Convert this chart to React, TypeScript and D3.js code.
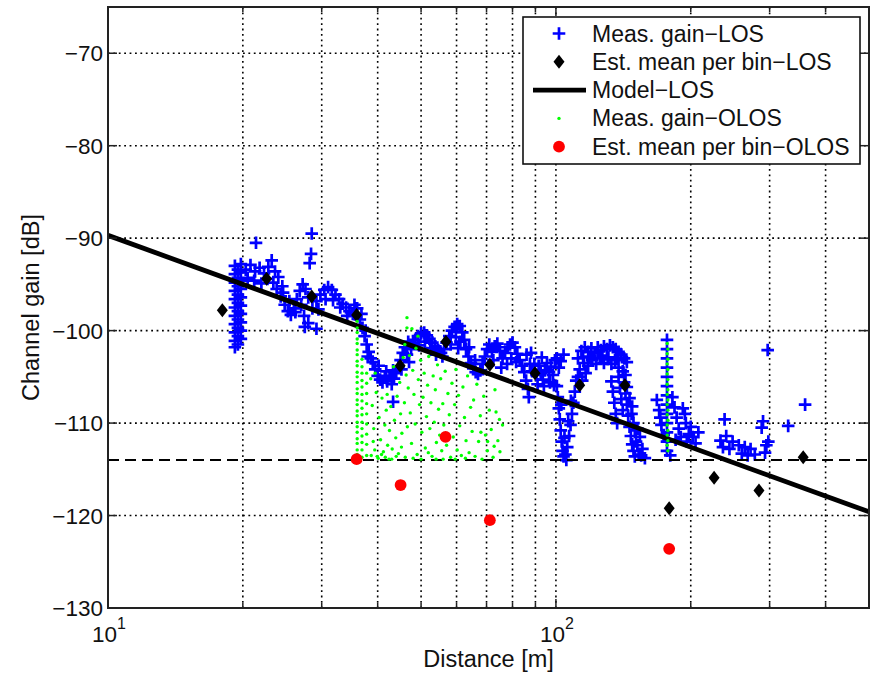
import React from 'react';
import * as d3 from 'd3';

// ---------- data ----------
const xDomain: [number, number] = [10, 500];
const yDomain: [number, number] = [-130, -65];
const yTicks = [-130, -120, -110, -100, -90, -80, -70];
const xMajorTicks = [10, 100];
const xMajorExp = ['1', '2'];
const xMinorTicks = [20, 30, 40, 50, 60, 70, 80, 90, 200, 300, 400];
const thresholdGain = -114;

const modelDist = [10, 500];
const modelGain = [-89.7, -119.6];

const losBinMean: [number, number][] = [
  [18, -97.8], [22.6, -94.4], [28.5, -96.3], [35.9, -98.3], [44.9, -103.8], [56.8, -101.2],
  [71.2, -103.7], [89.8, -104.6], [113, -105.9], [142.6, -105.9], [179, -119.2], [225.5, -115.9],
  [284, -117.3], [356.5, -113.7],
];

const olosBinMean: [number, number][] = [
  [35.9, -113.9], [45.0, -116.7], [56.7, -111.5], [71.2, -120.5], [179, -123.6],
];

const losMeasured: [number, number][] = [
  // bar near 19-20 m
  [19.2, -93.0], [19.2, -93.9], [19.2, -94.8], [19.2, -95.7], [19.2, -96.6], [19.2, -97.5], [19.2, -98.4], [19.2, -99.3], [19.2, -100.2], [19.2, -101.1], [19.2, -101.8],
  [19.5, -93.4], [19.5, -94.3], [19.5, -95.2], [19.5, -96.1], [19.5, -97.0], [19.5, -97.9], [19.5, -98.8], [19.5, -99.7], [19.5, -100.6], [19.5, -101.5],
  [19.8, -92.8], [19.8, -93.7], [19.8, -94.6], [19.8, -95.5], [19.8, -96.4], [19.8, -97.3], [19.8, -98.2], [19.8, -99.1], [19.8, -100.0], [19.8, -100.9],
  // top blob
  [20.3, -93.4], [20.8, -92.9], [21.3, -93.6], [21.8, -93.2], [22.3, -93.8], [22.8, -93.1], [23.2, -92.4], [23.6, -93.6],
  [20.5, -94.3], [21.2, -94.6], [22.0, -94.9], [22.7, -94.4], [23.4, -94.8], [24.0, -94.2], [24.5, -95.2],
  [21.4, -90.5],
  [23.8, -95.5], [24.3, -96.3], [24.8, -97.2], [25.2, -97.9], [25.6, -98.3], [26.0, -97.6], [26.4, -96.6], [26.8, -95.7],
  [27.2, -95.0], [27.6, -95.5], [28.0, -96.4], [24.6, -95.9], [25.4, -96.8], [26.2, -98.0], [27.0, -97.2],
  [27.4, -98.4], [28.0, -99.2], [27.5, -99.6], [29.2, -99.8],
  [28.5, -89.5], [28.4, -91.7], [28.2, -92.7],
  // hump 28-36 m
  [28.6, -97.6], [29.2, -96.8], [29.8, -96.1], [30.4, -95.6], [31.0, -95.3], [31.6, -95.6], [32.2, -96.1], [32.8, -96.6],
  [33.4, -97.1], [34.0, -97.5], [34.6, -97.9], [35.2, -98.2], [29.5, -97.7], [30.6, -96.6], [31.8, -96.7], [33.0, -97.5],
  [34.2, -98.4], [35.5, -97.2], [36.0, -97.6],
  // descent and trough
  [36.5, -98.8], [37.0, -99.7], [37.4, -100.6], [37.8, -101.5], [38.2, -102.3], [38.6, -103.0], [36.8, -98.2], [37.6, -100.0],
  [38.0, -102.8], [39.0, -103.4],
  [39.5, -104.2], [40.0, -104.9], [40.5, -105.3], [41.0, -105.6], [41.5, -105.1], [42.0, -105.5], [42.5, -104.9], [43.0, -105.8],
  [43.5, -105.2], [44.0, -104.6], [44.5, -104.0], [40.2, -103.8], [41.8, -104.4], [43.3, -104.3], [43.3, -107.7],
  // rise and humps
  [45.0, -103.2], [45.5, -102.4], [46.0, -101.8], [46.5, -102.6], [47.0, -103.4], [47.5, -102.0], [48.0, -101.4], [45.2, -104.2], [46.8, -101.2],
  [48.5, -101.0], [49.2, -100.6], [50.0, -100.3], [50.8, -100.2], [51.5, -100.5], [52.2, -100.9], [53.0, -101.3], [53.8, -101.7],
  [54.6, -102.1], [55.4, -102.4], [49.5, -101.6], [51.0, -101.2], [52.6, -101.9], [54.0, -102.6], [55.8, -102.8], [56.3, -102.0],
  [57.0, -101.3], [57.8, -100.6], [58.6, -100.0], [59.4, -99.6], [60.2, -99.3], [61.0, -99.5], [61.8, -100.2], [62.4, -101.0],
  [58.2, -101.5], [59.8, -100.7], [61.2, -101.2], [60.5, -101.9],
  [63.0, -102.0], [63.8, -102.8], [64.6, -103.5], [65.4, -104.1], [66.2, -104.5], [67.0, -104.7], [67.8, -104.3], [68.6, -103.6],
  [69.4, -102.8], [64.0, -101.8], [66.0, -103.2],
  [70.2, -102.0], [71.0, -101.5], [72.0, -102.3], [73.0, -101.7], [74.0, -101.4], [75.0, -102.2], [76.0, -103.0], [77.0, -102.4],
  [78.0, -101.8], [79.0, -101.5], [80.0, -101.3], [81.0, -101.8], [82.0, -102.5], [83.0, -103.2], [84.0, -103.8], [72.5, -103.2],
  [75.5, -104.0], [79.5, -103.0], [81.5, -103.4], [77.8, -103.6],
  [85.0, -104.5], [85.8, -105.4], [86.6, -106.3], [87.0, -107.2], [86.0, -102.6], [87.5, -103.6], [88.5, -104.4], [89.5, -103.6],
  [90.5, -104.8], [91.5, -103.8], [92.5, -104.6], [93.5, -105.3], [94.5, -104.3], [95.5, -103.5], [96.5, -104.5], [97.5, -103.9],
  [98.5, -104.8], [99.5, -103.2], [100.5, -103.0], [101.5, -104.0], [102.5, -103.3], [104.0, -102.6],
  [91.0, -105.8], [94.0, -106.0], [97.0, -105.6], [99.0, -105.9], [88.0, -102.4], [93.0, -102.9],
  // deep dip near 100-110 m
  [100.5, -106.0], [101.0, -107.2], [101.5, -108.4], [102.0, -109.6], [102.5, -110.8], [103.0, -112.0], [103.5, -113.0], [104.0, -113.6],
  [105.0, -113.4], [106.0, -112.6], [107.0, -111.4], [107.8, -110.2], [108.6, -109.0], [109.4, -107.8], [110.2, -106.6], [111.0, -105.4],
  [104.5, -111.6], [106.5, -109.8], [102.8, -108.0], [105.5, -114.0], [108.0, -107.6],
  // plateau 112-145 m
  [112, -103.0], [114, -102.2], [116, -101.8], [118, -102.3], [120, -101.9], [122, -102.4], [124, -101.8], [126, -102.1],
  [128, -101.7], [130, -102.0], [132, -101.6], [134, -101.8], [136, -102.0], [138, -102.3], [140, -102.6], [142, -103.0], [144, -103.4],
  [113, -104.2], [115.5, -103.5], [118, -103.8], [120.5, -103.2], [123, -103.6], [125.5, -103.0], [128, -103.5], [130.5, -103.1],
  [133, -103.6], [135.5, -103.2], [138, -104.0], [141, -104.4], [143, -104.8],
  [115, -102.9], [119, -102.8], [127, -102.7], [131, -102.9], [137, -103.1], [112, -105.0], [114.5, -105.4], [116.5, -104.6],
  [133, -105.5], [134, -106.6], [135, -107.8], [136, -109.0], [137, -110.0], [138, -105.0], [139, -106.2], [140, -107.4],
  [141, -108.6], [142, -105.6], [143, -106.8], [144, -108.0], [145, -109.2], [146, -110.4], [147, -111.4], [148, -112.3],
  [149, -113.0], [150, -113.6], [151, -112.0], [152, -110.6], [153, -113.4], [147.5, -109.0], [150, -110.8], [156, -112.8],
  [158, -113.8], [154, -111.5], [144, -106.1], [146, -107.3], [148, -108.2], [149, -110.0], [152, -112.4], [155, -113.5],
  // bar near 177 m
  [177, -101.0], [177, -102.0], [177, -103.0], [177, -104.0], [177, -105.0], [177, -106.0], [177, -107.0], [177, -108.0],
  [177, -109.0], [177, -110.0], [177, -111.0], [177, -112.0], [177, -113.0],
  [168, -107.5], [170, -108.6], [172, -110.2], [174, -111.3], [171, -109.4], [182, -107.2], [184, -108.3], [186, -109.4],
  [188, -110.6], [190, -111.5], [192, -108.4], [195, -110.0], [198, -111.2], [200, -110.4], [185, -111.8], [180, -113.5],
  [202, -111.5], [205, -112.2], [208, -111.0], [194, -109.0], [196, -112.0],
  // sparse tail
  [238, -109.6], [233, -111.9], [236, -112.6], [240, -111.4], [244, -112.8], [248, -112.0], [256, -112.4], [260, -113.3],
  [264, -112.6], [268, -113.5], [272, -112.8], [278, -113.4], [290, -109.8], [288, -110.5], [295, -112.4], [293, -113.2],
  [298, -112.0], [297, -102.1], [330, -110.3], [360, -108.0],
];

const olosMeasured: [number, number][] = [
  // streak at ~36 m
  [36.0, -99.0], [36.0, -99.7], [36.0, -100.2], [36.0, -100.9], [36.0, -101.4], [36.0, -102.1], [36.0, -102.6], [36.0, -103.3],
  [36.0, -103.8], [36.0, -104.5], [36.0, -105.0], [36.0, -105.6], [36.0, -106.3], [36.0, -106.8], [36.0, -107.5], [36.0, -108.0],
  [36.0, -108.7], [36.0, -109.2], [36.0, -109.9], [36.0, -110.4], [36.0, -111.0], [36.0, -111.7], [36.0, -112.2], [36.0, -112.9],
  [36.0, -113.4], [36.0, -113.9],
  [36.9, -103.1], [36.9, -103.9], [36.9, -104.6], [36.9, -105.4], [36.9, -106.1], [36.9, -106.9], [36.9, -107.6], [36.9, -108.4],
  [36.9, -109.1], [36.9, -109.9], [36.9, -110.6], [36.9, -111.4], [36.9, -112.1], [36.9, -112.9], [36.9, -113.7],
  [37.8, -104.6], [37.8, -105.7], [37.8, -106.8], [37.8, -107.9], [37.8, -109.0], [37.8, -110.1], [37.8, -111.2], [37.8, -112.3], [37.8, -113.5],
  // cloud 38-77 m
  [38.6, -105.2], [38.9, -108.1], [39.2, -110.6], [39.4, -112.9], [39.7, -106.7], [39.9, -113.6], [40.3, -109.4], [40.6, -111.8],
  [40.9, -107.3], [41.2, -113.1], [41.5, -110.2], [41.8, -108.6], [42.1, -112.4], [38.7, -113.5], [39.1, -112.0], [40.1, -113.8],
  [40.8, -113.4], [41.6, -113.7], [42.4, -113.9], [42.0, -106.9], [39.5, -104.6],
  [42.5, -110.8], [42.8, -108.2], [43.1, -112.8], [43.4, -103.9], [43.6, -109.7], [43.9, -111.6], [44.2, -107.1], [44.5, -113.3],
  [44.8, -105.6], [45.0, -109.0], [45.3, -111.1], [45.6, -102.9], [45.9, -107.8], [46.1, -113.7], [46.3, -104.8], [46.5, -98.6],
  [46.5, -99.7], [46.6, -110.4], [46.8, -106.2], [43.0, -113.9], [44.0, -113.6], [45.2, -112.6], [46.0, -101.5],
  [47.1, -102.7], [47.3, -108.9], [47.6, -112.2], [47.9, -104.3], [48.2, -106.9], [48.5, -110.1], [48.7, -101.9], [49.0, -113.4],
  [49.3, -105.3], [49.6, -108.0], [49.9, -103.2], [50.2, -111.0], [50.5, -107.2], [50.8, -104.6], [51.1, -112.7], [51.4, -109.3],
  [51.7, -105.9], [52.0, -102.8], [52.3, -110.6], [52.6, -107.8], [52.9, -113.6], [53.2, -104.9], [53.5, -109.9], [53.8, -106.4],
  [54.1, -112.1], [54.4, -103.7], [54.7, -108.5], [55.0, -111.3], [48.0, -113.8], [50.0, -113.9], [51.9, -113.2], [54.0, -113.9],
  [47.7, -99.8], [49.2, -100.6],
  [55.3, -105.2], [55.6, -113.0], [55.9, -107.9], [56.2, -110.2], [56.6, -104.4], [57.0, -112.4], [57.4, -106.8], [57.8, -109.1],
  [58.2, -113.7], [58.6, -105.7], [59.0, -111.5], [59.4, -108.0], [59.8, -104.2], [60.2, -112.9], [60.6, -107.0], [61.0, -110.3],
  [61.5, -113.5], [62.0, -106.1], [62.5, -109.4], [63.0, -111.9], [63.5, -104.9], [64.0, -113.2], [64.5, -108.3], [56.0, -113.9],
  [59.6, -113.9], [62.8, -113.8],
  [65.0, -110.9], [65.5, -107.5], [66.0, -113.6], [66.6, -105.8], [67.2, -112.0], [67.8, -109.2], [68.4, -113.9], [69.0, -107.1],
  [69.6, -111.3], [70.3, -113.0], [71.0, -108.6], [71.7, -110.7], [72.4, -113.7], [73.1, -106.4], [73.5, -108.8], [74.2, -111.9],
  [75.0, -113.1], [70.4, -112.0], [72.8, -112.5], [76.0, -110.2], [74.8, -109.6], [68.0, -111.0],
  // streak at ~177 m
  [177.2, -101.4], [177.8, -102.0], [177.2, -102.5], [177.8, -103.1], [177.2, -103.6], [177.8, -104.2], [177.2, -104.7],
  [177.8, -105.3], [177.2, -105.8], [177.8, -106.4], [177.2, -106.9], [177.8, -107.5], [177.2, -108.0], [177.8, -108.6],
  [177.2, -109.1], [177.8, -109.7], [177.2, -110.2], [177.8, -110.8], [177.2, -111.3], [177.8, -111.9], [177.2, -112.4], [177.8, -113.0],
];

const legendLabels = [
  'Meas. gain\u2212LOS',
  'Est. mean per bin\u2212LOS',
  'Model\u2212LOS',
  'Meas. gain\u2212OLOS',
  'Est. mean per bin\u2212OLOS',
];

// ---------- layout ----------
const W = 871, H = 674;
const P = { left: 108, right: 869, top: 7, bottom: 608 };
const FONT = '"Liberation Sans", Arial, Helvetica, sans-serif';
const BLUE = '#0000ff', GREEN = '#00ff00', RED = '#ff0000';

export default function App() {
  const x = d3.scaleLog().domain(xDomain).range([P.left, P.right]);
  const y = d3.scaleLinear().domain(yDomain).range([P.bottom, P.top]);

  const plusS = 6.3;
  const plusPath = losMeasured
    .map(([d, g]) => {
      const px = x(d), py = y(g);
      return `M${px - plusS},${py}H${px + plusS}M${px},${py - plusS}V${py + plusS}`;
    })
    .join('');

  const diamond = (cx: number, cy: number, w = 5.5, h = 7) =>
    `M${cx},${cy - h}L${cx + w},${cy}L${cx},${cy + h}L${cx - w},${cy}Z`;

  const modelLine = d3.line<number>().x((_, i) => x(modelDist[i])).y((_, i) => y(modelGain[i]));

  const gridX = [...xMinorTicks, 100];
  const gridY = yTicks.filter((t) => t > yDomain[0]);

  const legend = { x: 523, y: 17, w: 337, h: 147, rowY: 33.5, rowH: 28.3, symX: 559, textX: 592 };

  return (
    <svg width={W} height={H} style={{ position: 'absolute', left: 0, top: 0, background: '#fff' }} fontFamily={FONT}>
      <defs>
        <clipPath id="plotClip">
          <rect x={P.left} y={P.top} width={P.right - P.left} height={P.bottom - P.top} />
        </clipPath>
      </defs>
      <rect x={0} y={0} width={W} height={H} fill="#fff" />

      {/* grid */}
      <g stroke="#000" strokeWidth={1.6} strokeDasharray="1.8,3.6">
        {gridX.map((t) => (
          <line key={'gx' + t} x1={x(t)} x2={x(t)} y1={P.top} y2={P.bottom} />
        ))}
        {gridY.map((t) => (
          <line key={'gy' + t} x1={P.left} x2={P.right} y1={y(t)} y2={y(t)} />
        ))}
      </g>

      <g clipPath="url(#plotClip)">
        {/* LOS measurements */}
        <path d={plusPath} stroke={BLUE} strokeWidth={2.7} fill="none" />
        {/* threshold */}
        <line x1={P.left} x2={P.right} y1={y(thresholdGain)} y2={y(thresholdGain)} stroke="#000" strokeWidth={2} strokeDasharray="11,6" />
        {/* LOS bin means */}
        {losBinMean.map(([d, g], i) => (
          <path key={'lm' + i} d={diamond(x(d), y(g))} fill="#000" />
        ))}
        {/* model */}
        <path d={modelLine(modelDist) || ''} stroke="#000" strokeWidth={4.8} fill="none" />
        {/* OLOS measurements */}
        {olosMeasured.map(([d, g], i) => (
          <circle key={'om' + i} cx={x(d)} cy={y(g)} r={1.7} fill={GREEN} />
        ))}
        {/* OLOS bin means */}
        {olosBinMean.map(([d, g], i) => (
          <circle key={'ob' + i} cx={x(d)} cy={y(g)} r={5.9} fill={RED} />
        ))}
      </g>

      {/* axes box */}
      <rect x={P.left} y={P.top} width={P.right - P.left} height={P.bottom - P.top} fill="none" stroke="#222" strokeWidth={2} />

      {/* ticks */}
      <g stroke="#222" strokeWidth={1.5}>
        {yTicks.map((t) => (
          <g key={'yt' + t}>
            <line x1={P.left} x2={P.left + 9} y1={y(t)} y2={y(t)} />
            <line x1={P.right} x2={P.right - 9} y1={y(t)} y2={y(t)} />
          </g>
        ))}
        {xMajorTicks.map((t) => (
          <g key={'xt' + t}>
            <line x1={x(t)} x2={x(t)} y1={P.bottom} y2={P.bottom - 9} />
            <line x1={x(t)} x2={x(t)} y1={P.top} y2={P.top + 9} />
          </g>
        ))}
        {xMinorTicks.map((t) => (
          <g key={'xm' + t}>
            <line x1={x(t)} x2={x(t)} y1={P.bottom} y2={P.bottom - 5} />
            <line x1={x(t)} x2={x(t)} y1={P.top} y2={P.top + 5} />
          </g>
        ))}
      </g>

      {/* tick labels */}
      <g fontSize={22.5} fill="#111">
        {yTicks.map((t) => (
          <text key={'yl' + t} x={P.left - 5} y={y(t) + 8} textAnchor="end">
            {'\u2212' + Math.abs(t)}
          </text>
        ))}
        {xMajorTicks.map((t, i) => (
          <text key={'xl' + t} x={x(t) + 1} y={642} textAnchor="middle">
            10
            <tspan dy={-13} fontSize={16}>
              {xMajorExp[i]}
            </tspan>
          </text>
        ))}
      </g>

      {/* axis labels */}
      <text x={(P.left + P.right) / 2} y={667} textAnchor="middle" fontSize={23.5} fill="#111">
        Distance [m]
      </text>
      <text
        transform={`translate(39, ${(P.top + P.bottom) / 2}) rotate(-90)`}
        textAnchor="middle"
        fontSize={23.5}
        fill="#111"
      >
        Channel gain [dB]
      </text>

      {/* legend */}
      <g>
        <rect x={legend.x} y={legend.y} width={legend.w} height={legend.h} fill="#fff" stroke="#111" strokeWidth={1.6} />
        {legendLabels.map((lab, i) => {
          const cy = legend.rowY + i * legend.rowH;
          let sym: React.ReactNode = null;
          if (i === 0)
            sym = (
              <path
                d={`M${legend.symX - plusS},${cy}H${legend.symX + plusS}M${legend.symX},${cy - plusS}V${cy + plusS}`}
                stroke={BLUE}
                strokeWidth={2.7}
              />
            );
          else if (i === 1) sym = <path d={diamond(legend.symX, cy)} fill="#000" />;
          else if (i === 2)
            sym = <line x1={533} x2={586} y1={cy} y2={cy} stroke="#000" strokeWidth={4.8} />;
          else if (i === 3) sym = <circle cx={legend.symX} cy={cy} r={1.7} fill={GREEN} />;
          else sym = <circle cx={legend.symX} cy={cy} r={5.9} fill={RED} />;
          return (
            <g key={'lg' + i}>
              {sym}
              <text x={legend.textX} y={cy + 8} fontSize={23} fill="#111">
                {lab}
              </text>
            </g>
          );
        })}
      </g>
    </svg>
  );
}
